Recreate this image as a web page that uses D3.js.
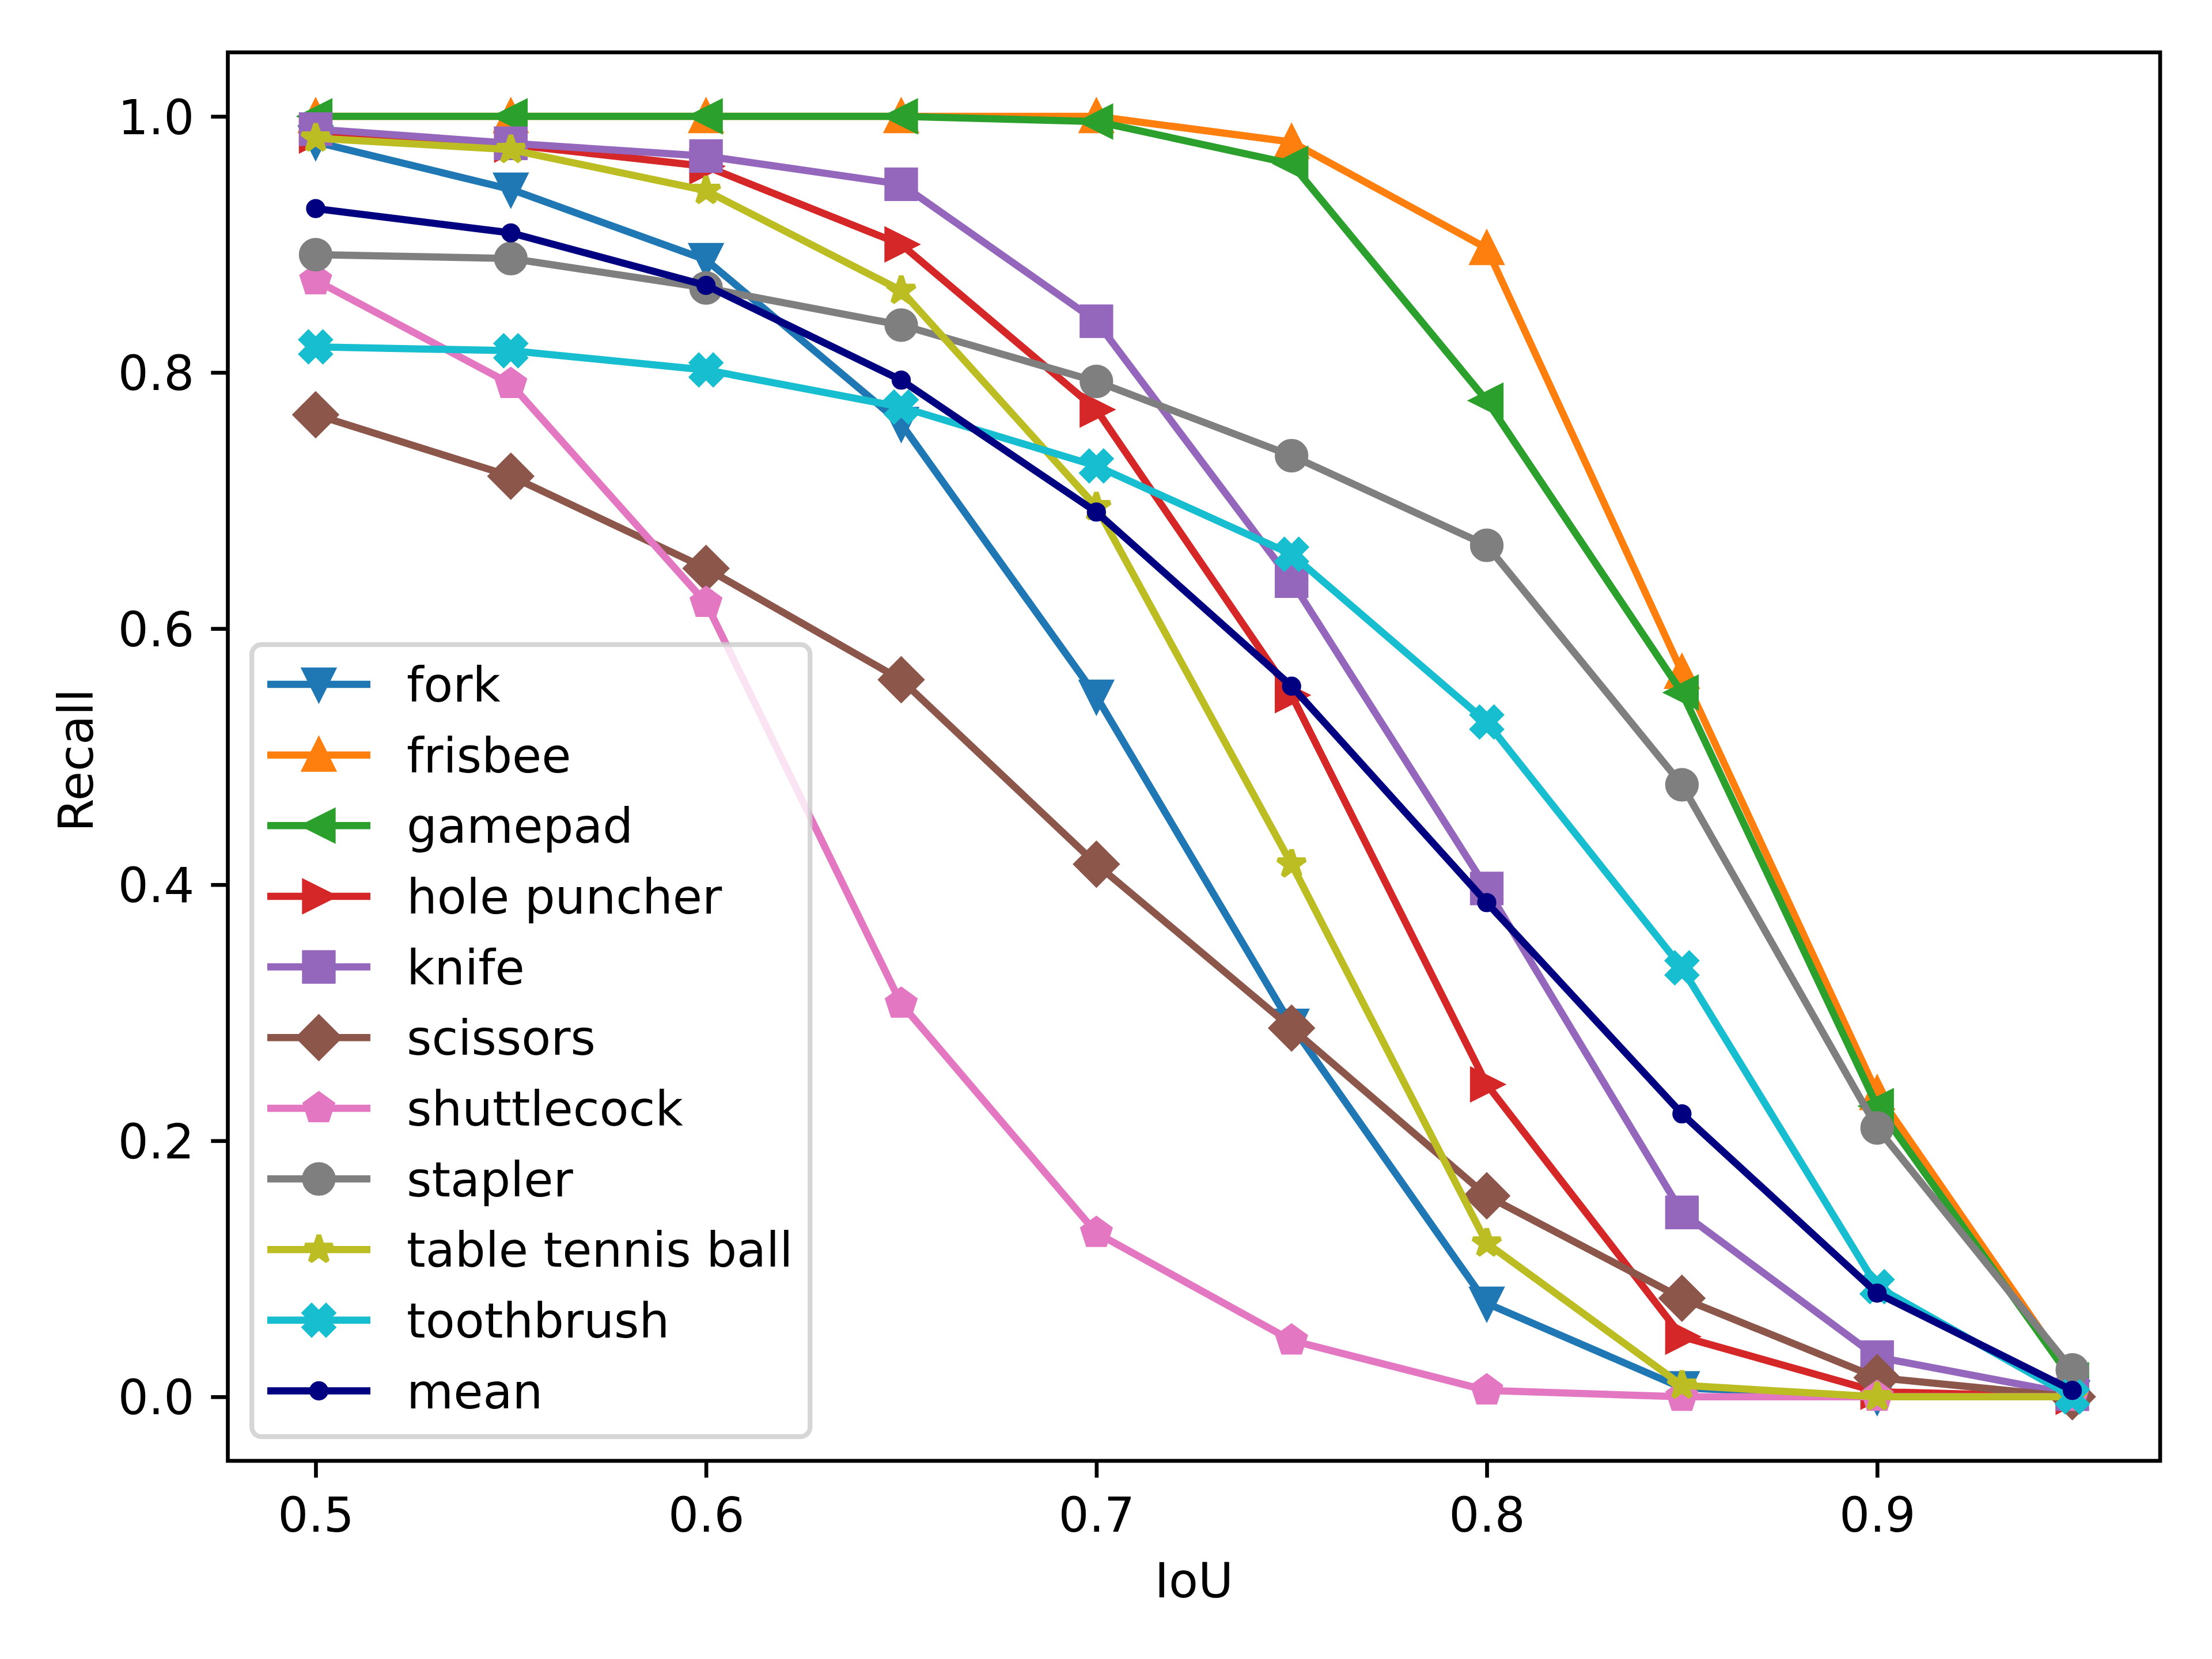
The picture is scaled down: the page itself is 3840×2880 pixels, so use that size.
<!DOCTYPE html>
<html>
<head>
<meta charset="utf-8">
<script src="https://cdn.jsdelivr.net/npm/d3@7"></script>
<style>
  html, body { margin: 0; padding: 0; background: #fff; }
  svg { display: block; }
  text { font-family: "DejaVu Sans", sans-serif; }
</style>
</head>
<body>
<script>
// ---------------- data ----------------
const iou = [0.5, 0.55, 0.6, 0.65, 0.7, 0.75, 0.8, 0.85, 0.9, 0.95];
const xTicks = [0.5, 0.6, 0.7, 0.8, 0.9];
const yTicks = [0.0, 0.2, 0.4, 0.6, 0.8, 1.0];
const xLabel = "IoU";
const yLabel = "Recall";

const fork            = [0.980, 0.943, 0.888, 0.760, 0.547, 0.290, 0.073, 0.007, 0.000, 0.000];
const frisbee         = [1.000, 1.000, 1.000, 1.000, 1.000, 0.980, 0.897, 0.566, 0.237, 0.016];
const gamepad         = [1.000, 1.000, 1.000, 1.000, 0.996, 0.963, 0.778, 0.550, 0.227, 0.013];
const holePuncher     = [0.985, 0.978, 0.961, 0.900, 0.771, 0.548, 0.244, 0.047, 0.004, 0.000];
const knife           = [0.990, 0.979, 0.969, 0.947, 0.840, 0.637, 0.397, 0.144, 0.031, 0.002];
const scissors        = [0.767, 0.719, 0.647, 0.560, 0.416, 0.288, 0.157, 0.077, 0.015, 0.000];
const shuttlecock     = [0.872, 0.791, 0.620, 0.307, 0.128, 0.044, 0.005, 0.000, 0.000, 0.000];
const stapler         = [0.892, 0.889, 0.866, 0.837, 0.793, 0.735, 0.665, 0.478, 0.210, 0.021];
const tableTennisBall = [0.983, 0.974, 0.942, 0.864, 0.695, 0.416, 0.120, 0.009, 0.000, 0.000];
const toothbrush      = [0.820, 0.817, 0.802, 0.773, 0.727, 0.658, 0.527, 0.335, 0.086, 0.000];
const meanRecall      = [0.928, 0.909, 0.868, 0.794, 0.691, 0.555, 0.386, 0.221, 0.081, 0.005];

const seriesNames   = ["fork", "frisbee", "gamepad", "hole puncher", "knife", "scissors",
                       "shuttlecock", "stapler", "table tennis ball", "toothbrush", "mean"];
const seriesValues  = [fork, frisbee, gamepad, holePuncher, knife, scissors,
                       shuttlecock, stapler, tableTennisBall, toothbrush, meanRecall];
const seriesMarkers = ["v", "^", "<", ">", "s", "D", "p", "o", "*", "X", "."];
const seriesColors  = ["#1f77b4", "#ff7f0e", "#2ca02c", "#d62728", "#9467bd", "#8c564b",
                       "#e377c2", "#7f7f7f", "#bcbd22", "#17becf", "#000080"];

// ---------------- layout ----------------
const W = 3840, H = 2880;
const PT = 600 / 72;               // px per point
const FS = 10 * PT;                // 10pt font
const ax = { left: 395.5, right: 3750, top: 90.9, bottom: 2536 };

const x = d3.scaleLinear().domain([0.4775, 0.9725]).range([ax.left, ax.right]);
const y = d3.scaleLinear().domain([-0.05, 1.05]).range([ax.bottom, ax.top]);

const svg = d3.select("body").append("svg")
  .attr("width", W).attr("height", H)
  .attr("viewBox", `0 0 ${W} ${H}`);

svg.append("rect").attr("width", W).attr("height", H).attr("fill", "#fff");

svg.append("defs").append("clipPath").attr("id", "axclip")
  .append("rect")
  .attr("x", ax.left).attr("y", ax.top)
  .attr("width", ax.right - ax.left).attr("height", ax.bottom - ax.top);

// ---------------- marker paths ----------------
const MS = 6 * PT; // markersize 6pt
function markerPath(m) {
  const h = MS / 2;
  const poly = pts => "M" + pts.map(p => p[0].toFixed(2) + "," + p[1].toFixed(2)).join("L") + "Z";
  switch (m) {
    case "v": return poly([[0, h], [h, -h], [-h, -h]]);
    case "^": return poly([[0, -h], [-h, h], [h, h]]);
    case "<": return poly([[-h, 0], [h, -h], [h, h]]);
    case ">": return poly([[h, 0], [-h, h], [-h, -h]]);
    case "s": return poly([[-h, -h], [h, -h], [h, h], [-h, h]]);
    case "D": { const d = MS * Math.SQRT1_2; return poly([[0, -d], [d, 0], [0, d], [-d, 0]]); }
    case "p": {
      const pts = [];
      for (let i = 0; i < 5; i++) {
        const t = Math.PI / 2 + i * 2 * Math.PI / 5;
        pts.push([h * Math.cos(t), -h * Math.sin(t)]);
      }
      return poly(pts);
    }
    case "*": {
      const pts = [];
      for (let i = 0; i < 10; i++) {
        const t = Math.PI / 2 + i * Math.PI / 5;
        const r = (i % 2 === 0) ? h : h * 0.381966;
        pts.push([r * Math.cos(t), -r * Math.sin(t)]);
      }
      return poly(pts);
    }
    case "X": {
      const base = [[-1, -2], [0, -1], [1, -2], [2, -1], [1, 0], [2, 1], [1, 2], [0, 1],
                    [-1, 2], [-2, 1], [-1, 0], [-2, -1]];
      return poly(base.map(p => [p[0] / 4 * MS, p[1] / 4 * MS]));
    }
    case "o": return d3.arc()({ innerRadius: 0, outerRadius: h, startAngle: 0, endAngle: 2 * Math.PI });
    case ".": return d3.arc()({ innerRadius: 0, outerRadius: h / 2, startAngle: 0, endAngle: 2 * Math.PI });
  }
}
function markerJoin(m) {
  if (m === "o" || m === ".") return "round";
  if (m === "*") return "bevel";
  return "miter";
}

// ---------------- lines & markers ----------------
const LW = 1.5 * PT;
const MEW = 1.0 * PT;
const plot = svg.append("g").attr("clip-path", "url(#axclip)");
const line = d3.line().x(d => x(d[0])).y(d => y(d[1]));

seriesNames.forEach((name, i) => {
  const pts = iou.map((v, j) => [v, seriesValues[i][j]]);
  const g = plot.append("g").attr("class", "series");
  g.append("path")
    .attr("d", line(pts))
    .attr("fill", "none")
    .attr("stroke", seriesColors[i])
    .attr("stroke-width", LW)
    .attr("stroke-linejoin", "round")
    .attr("stroke-linecap", "square");
  const mp = markerPath(seriesMarkers[i]);
  g.selectAll("path.mk").data(pts).enter().append("path")
    .attr("class", "mk")
    .attr("d", mp)
    .attr("transform", d => `translate(${x(d[0])},${y(d[1])})`)
    .attr("fill", seriesColors[i])
    .attr("stroke", seriesColors[i])
    .attr("stroke-width", MEW)
    .attr("stroke-linejoin", markerJoin(seriesMarkers[i]));
});

// ---------------- axes ----------------
const TL = 3.5 * PT, TW = 0.8 * PT;
const xAxis = svg.append("g")
  .attr("transform", `translate(0,${ax.bottom})`)
  .call(d3.axisBottom(x).tickValues(xTicks).tickFormat(d3.format(".1f"))
        .tickSize(TL).tickPadding(TL).tickSizeOuter(0));
const yAxis = svg.append("g")
  .attr("transform", `translate(${ax.left},0)`)
  .call(d3.axisLeft(y).tickValues(yTicks).tickFormat(d3.format(".1f"))
        .tickSize(TL).tickPadding(TL).tickSizeOuter(0));

[xAxis, yAxis].forEach(a => {
  a.select(".domain").remove();
  a.selectAll(".tick line").attr("stroke", "#000").attr("stroke-width", TW);
  a.selectAll(".tick text")
    .attr("fill", "#000")
    .style("font-family", "'DejaVu Sans', sans-serif")
    .style("font-size", FS + "px");
});
xAxis.selectAll(".tick text").attr("dy", "0.78em");
yAxis.selectAll(".tick text").attr("dy", "0.36em");

// spines
svg.append("rect")
  .attr("x", ax.left).attr("y", ax.top)
  .attr("width", ax.right - ax.left).attr("height", ax.bottom - ax.top)
  .attr("fill", "none").attr("stroke", "#000").attr("stroke-width", TW)
  .attr("stroke-linejoin", "miter");

// axis labels
svg.append("text")
  .attr("x", (ax.left + ax.right) / 2).attr("y", 2773)
  .attr("text-anchor", "middle")
  .style("font-size", FS + "px").attr("fill", "#000")
  .text(xLabel);
svg.append("text")
  .attr("transform", `translate(161,1320) rotate(-90)`)
  .attr("text-anchor", "middle")
  .style("font-size", FS + "px").attr("fill", "#000")
  .text(yLabel);

// ---------------- legend ----------------
const lg = { x: 437.2, y: 1119, w: 969, h: 1375, row0: 1188, pitch: 122.65,
             h0: 464, h1: 643, tx: 706 };
const legend = svg.append("g");
legend.append("rect")
  .attr("x", lg.x).attr("y", lg.y).attr("width", lg.w).attr("height", lg.h)
  .attr("rx", 0.2 * FS).attr("ry", 0.2 * FS)
  .attr("fill", "#fff").attr("fill-opacity", 0.8)
  .attr("stroke", "#cccccc").attr("stroke-opacity", 0.8)
  .attr("stroke-width", 1.0 * PT);

seriesNames.forEach((name, i) => {
  const cy = lg.row0 + i * lg.pitch;
  const row = legend.append("g");
  row.append("line")
    .attr("x1", lg.h0).attr("x2", lg.h1).attr("y1", cy).attr("y2", cy)
    .attr("stroke", seriesColors[i]).attr("stroke-width", LW)
    .attr("stroke-linecap", "butt");
  row.append("path")
    .attr("d", markerPath(seriesMarkers[i]))
    .attr("transform", `translate(${(lg.h0 + lg.h1) / 2},${cy})`)
    .attr("fill", seriesColors[i]).attr("stroke", seriesColors[i])
    .attr("stroke-width", MEW)
    .attr("stroke-linejoin", markerJoin(seriesMarkers[i]));
  row.append("text")
    .attr("x", lg.tx).attr("y", cy + 30)
    .style("font-size", FS + "px").attr("fill", "#000")
    .text(name);
});
</script>
</body>
</html>
